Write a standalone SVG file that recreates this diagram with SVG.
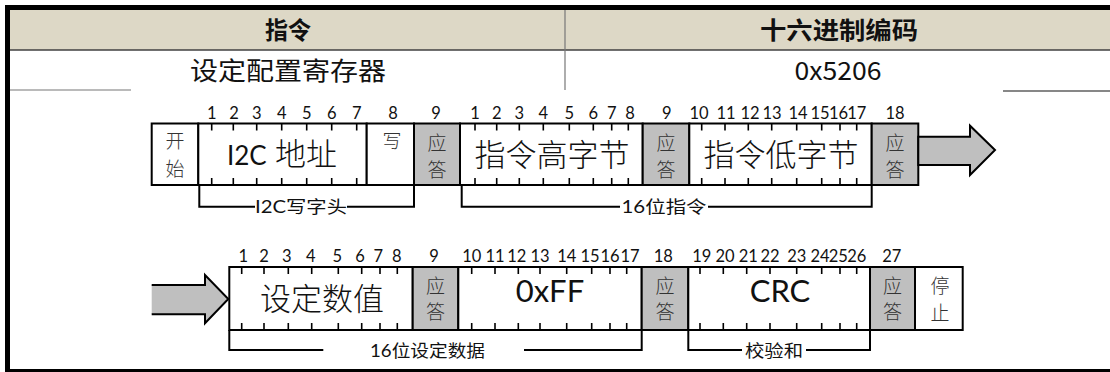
<svg xmlns="http://www.w3.org/2000/svg" width="1110" height="372" viewBox="0 0 1110 372">
<style>
.box{fill:#fff;stroke:#000;stroke-width:2}
.ack{fill:#BFBFBF;stroke:#000;stroke-width:2}
.tick{stroke:#000;stroke-width:1.6;fill:none}
.num{font-family:Lato,"Noto Sans",sans-serif;font-size:16.5px;text-anchor:middle;fill:#111}
.sm{font-family:"Noto Sans CJK SC",sans-serif;font-weight:300;font-size:19px;text-anchor:middle;fill:#333}
.big{font-family:Lato,"Noto Sans CJK SC",sans-serif;font-weight:300;font-size:31px;text-anchor:middle;fill:#111}
.lat{font-family:Lato,"Noto Sans",sans-serif;font-weight:400}
.lbl{font-family:Lato,"Noto Sans CJK SC",sans-serif;font-size:17px;text-anchor:middle;fill:#111}
.hd{font-family:"Noto Sans CJK SC",sans-serif;text-anchor:middle;fill:#111}
.br{fill:none;stroke:#000;stroke-width:2}
.arrow{fill:#BFBFBF;stroke:#000;stroke-width:2;stroke-linejoin:miter}
</style>
<rect width="1110" height="372" fill="#fff"/>
<g id="table">
<rect x="10" y="10" width="1100" height="40" fill="#DDD8C6"/>
<line x1="10" y1="50" x2="1110" y2="50" stroke="#404040" stroke-width="1.5"/>
<line x1="10" y1="90" x2="131" y2="90" stroke="#777" stroke-width="1.2"/>
<line x1="1003" y1="91" x2="1110" y2="91" stroke="#111" stroke-width="1.2"/>
<line x1="565" y1="10" x2="565" y2="90" stroke="#777" stroke-width="1.2"/>
<rect x="5" y="5" width="1105" height="5" fill="#000"/>
<rect x="5" y="5" width="5" height="367" fill="#000"/>
<rect x="5" y="369" width="1105" height="3" fill="#000"/>
<text class="hd" x="288" y="39" font-size="24" font-weight="bold" textLength="46" lengthAdjust="spacingAndGlyphs">指令</text>
<text class="hd" x="839" y="39" font-size="24" font-weight="bold" textLength="158" lengthAdjust="spacingAndGlyphs">十六进制编码</text>
<text class="hd" x="288" y="80" font-size="25" textLength="196" lengthAdjust="spacingAndGlyphs">设定配置寄存器</text>
<text class="hd" x="838" y="80" font-size="25" textLength="87" lengthAdjust="spacingAndGlyphs">0x5206</text>
</g>

<g id="row1">
<g id="start">
<rect class="box" x="151.7" y="123.5" width="46.6" height="61.5"/>
<text class="sm" x="175" y="148">开</text>
<text class="sm" x="175" y="176">始</text>
</g>
<g id="i2c-addr">
<rect class="box" x="198.3" y="123.5" width="168.4" height="61.5"/>
<path class="tick" d="M211.7,123.5v7M233.3,123.5v7M256.7,123.5v7M281.7,123.5v7M306.7,123.5v7M331.7,123.5v7M356.7,123.5v7M211.7,185v-7M233.3,185v-7M256.7,185v-7M281.7,185v-7M306.7,185v-7M331.7,185v-7M356.7,185v-7"/>
<text class="big" x="282" y="165" font-size="29"><tspan class="lat" font-size="26">I2C</tspan> 地址</text>
<text class="num" x="211.7" y="119">1</text><text class="num" x="234" y="119">2</text><text class="num" x="256.7" y="119">3</text><text class="num" x="281.7" y="119">4</text><text class="num" x="306.7" y="119">5</text><text class="num" x="331.7" y="119">6</text><text class="num" x="356.7" y="119">7</text>
</g>
<g id="write">
<rect class="box" x="366.7" y="123.5" width="47.3" height="61.5"/>
<text class="sm" x="392" y="148">写</text>
<text class="num" x="393" y="119">8</text>
</g>
<g id="ack1">
<rect class="ack" x="414" y="123.5" width="46" height="61.5"/>
<text class="sm" x="437" y="150">应</text>
<text class="sm" x="437" y="177">答</text>
<text class="num" x="436" y="119">9</text>
</g>
<g id="cmd-high">
<rect class="box" x="460" y="123.5" width="182.7" height="61.5"/>
<path class="tick" d="M475,123.5v7M496.7,123.5v7M519.3,123.5v7M543.3,123.5v7M569.3,123.5v7M593.3,123.5v7M611.7,123.5v7M628.3,123.5v7M475,185v-7M496.7,185v-7M519.3,185v-7M543.3,185v-7M569.3,185v-7M593.3,185v-7M611.7,185v-7M628.3,185v-7"/>
<text class="big" x="552" y="166" font-size="32">指令高字节</text>
<text class="num" x="475" y="119">1</text><text class="num" x="496.7" y="119">2</text><text class="num" x="519.3" y="119">3</text><text class="num" x="543.3" y="119">4</text><text class="num" x="569.3" y="119">5</text><text class="num" x="593.3" y="119">6</text><text class="num" x="611.7" y="119">7</text><text class="num" x="630" y="119">8</text>
</g>
<g id="ack2">
<rect class="ack" x="642.7" y="123.5" width="46.6" height="61.5"/>
<text class="sm" x="666" y="150">应</text>
<text class="sm" x="666" y="177">答</text>
<text class="num" x="666.7" y="119">9</text>
</g>
<g id="cmd-low">
<rect class="box" x="689.3" y="123.5" width="182.4" height="61.5"/>
<path class="tick" d="M701.7,123.5v7M725,123.5v7M748.3,123.5v7M771.7,123.5v7M796.7,123.5v7M821.7,123.5v7M840,123.5v7M856.7,123.5v7M701.7,185v-7M725,185v-7M748.3,185v-7M771.7,185v-7M796.7,185v-7M821.7,185v-7M840,185v-7M856.7,185v-7"/>
<text class="big" x="781" y="166" font-size="32">指令低字节</text>
<text class="num" x="699" y="119">10</text><text class="num" x="726" y="119">11</text><text class="num" x="750" y="119">12</text><text class="num" x="772" y="119">13</text><text class="num" x="798" y="119">14</text><text class="num" x="820" y="119">15</text><text class="num" x="838.5" y="119">16</text><text class="num" x="856.7" y="119">17</text>
</g>
<g id="ack3">
<rect class="ack" x="871.7" y="123.5" width="46.6" height="61.5"/>
<text class="sm" x="895" y="150">应</text>
<text class="sm" x="895" y="177">答</text>
<text class="num" x="895" y="119">18</text>
</g>
<g id="arrow-out">
<polygon class="arrow" points="918.3,136.7 970,136.7 970,125.7 995,150 970,175 970,165 918.3,165"/>
</g>
</g>

<g id="row2">
<g id="arrow-in">
<polygon points="151.7,285 205,285 205,275 228.3,299 205,323.3 205,314.3 151.7,314.3" fill="#BFBFBF"/>
<polyline class="br" points="151.7,285 205,285 205,275 228.3,299 205,323.3 205,314.3 151.7,314.3"/>
</g>
<g id="set-value">
<rect class="box" x="229.3" y="267" width="183.4" height="63"/>
<path class="tick" d="M241.7,267v7M264,267v7M288.3,267v7M311.7,267v7M338.3,267v7M361.7,267v7M380,267v7M397.3,267v7M241.7,330v-7M264,330v-7M288.3,330v-7M311.7,330v-7M338.3,330v-7M361.7,330v-7M380,330v-7M397.3,330v-7"/>
<text class="big" x="322" y="310" font-size="32">设定数值</text>
<text class="num" x="243.3" y="261.5">1</text><text class="num" x="264" y="261.5">2</text><text class="num" x="286.7" y="261.5">3</text><text class="num" x="310.7" y="261.5">4</text><text class="num" x="337.3" y="261.5">5</text><text class="num" x="360" y="261.5">6</text><text class="num" x="378.3" y="261.5">7</text><text class="num" x="396.7" y="261.5">8</text>
</g>
<g id="ack4">
<rect class="ack" x="412.7" y="267" width="45.6" height="63"/>
<text class="sm" x="435.5" y="293">应</text>
<text class="sm" x="435.5" y="319">答</text>
<text class="num" x="434" y="261.5">9</text>
</g>
<g id="oxff">
<rect class="box" x="458.3" y="267" width="183.4" height="63"/>
<path class="tick" d="M471.7,267v7M495,267v7M518.3,267v7M540,267v7M566.7,267v7M591.7,267v7M610,267v7M626.7,267v7M471.7,330v-7M495,330v-7M518.3,330v-7M540,330v-7M566.7,330v-7M591.7,330v-7M610,330v-7M626.7,330v-7"/>
<text class="big lat" x="550" y="302" font-size="25">0xFF</text>
<text class="num" x="471.7" y="261.5">10</text><text class="num" x="495" y="261.5">11</text><text class="num" x="516.7" y="261.5">12</text><text class="num" x="540" y="261.5">13</text><text class="num" x="566.7" y="261.5">14</text><text class="num" x="590" y="261.5">15</text><text class="num" x="610" y="261.5">16</text><text class="num" x="630" y="261.5">17</text>
</g>
<g id="ack5">
<rect class="ack" x="641.7" y="267" width="46.6" height="63"/>
<text class="sm" x="665" y="293">应</text>
<text class="sm" x="665" y="319">答</text>
<text class="num" x="663.3" y="261.5">18</text>
</g>
<g id="crc">
<rect class="box" x="688.3" y="267" width="181.7" height="63"/>
<path class="tick" d="M700,267v7M723.3,267v7M746.7,267v7M770,267v7M796.7,267v7M821.7,267v7M840,267v7M856.7,267v7M700,330v-7M723.3,330v-7M746.7,330v-7M770,330v-7M796.7,330v-7M821.7,330v-7M840,330v-7M856.7,330v-7"/>
<text class="big lat" x="780" y="302" font-size="25">CRC</text>
<text class="num" x="701.7" y="261.5">19</text><text class="num" x="725" y="261.5">20</text><text class="num" x="748.3" y="261.5">21</text><text class="num" x="770" y="261.5">22</text><text class="num" x="796.7" y="261.5">23</text><text class="num" x="820" y="261.5">24</text><text class="num" x="838.3" y="261.5">25</text><text class="num" x="856.7" y="261.5">26</text>
</g>
<g id="ack6">
<rect class="ack" x="870" y="267" width="45" height="63"/>
<text class="sm" x="892.5" y="293">应</text>
<text class="sm" x="892.5" y="319">答</text>
<text class="num" x="891.7" y="261.5">27</text>
</g>
<g id="stop">
<rect class="box" x="915" y="267" width="47.7" height="63"/>
<text class="sm" x="940" y="293">停</text>
<text class="sm" x="940" y="320">止</text>
</g>
</g>

<g id="connectors">
<path class="br" d="M199.3,185V206.7H255M347,206.7H414V185"/>
<path class="br" d="M461.7,185V206.7H620M708,206.7H871.7V185"/>
<path class="br" d="M229.3,330V350H323.3M524,350H641.7V330"/>
<path class="br" d="M688.3,330V350H742M806,350H870V330"/>
<text class="lbl" x="301" y="213" textLength="92" lengthAdjust="spacingAndGlyphs">I2C写字头</text>
<text class="lbl" x="664" y="213" textLength="85" lengthAdjust="spacingAndGlyphs">16位指令</text>
<text class="lbl" x="427.5" y="357" textLength="115" lengthAdjust="spacingAndGlyphs">16位设定数据</text>
<text class="lbl" x="774" y="357" textLength="58" lengthAdjust="spacingAndGlyphs">校验和</text>
</g>
</svg>
